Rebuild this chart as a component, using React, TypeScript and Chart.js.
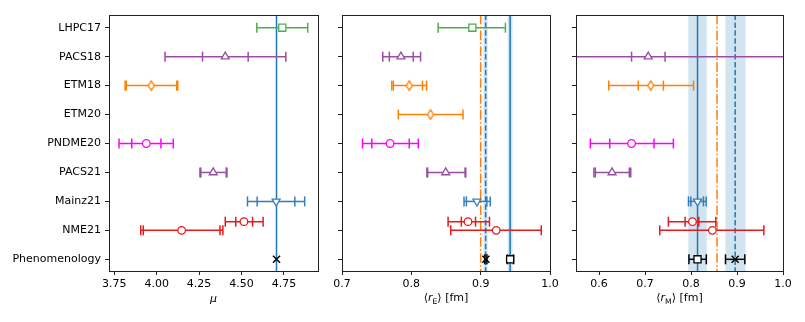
import React, { useEffect, useRef } from 'react';
import { Chart, registerables } from 'chart.js';

Chart.register(...registerables);

// ---------------- data ----------------
const rowLabels = ['LHPC17', 'PACS18', 'ETM18', 'ETM20', 'PNDME20', 'PACS21', 'Mainz21', 'NME21', 'Phenomenology'];

// [label, variant, center, innerLo, innerHi, outerLo, outerHi]
const muResults: [string, number, number, number, number, number, number][] = [
  ['LHPC17', 0, 4.74, 4.59, 4.89, 4.59, 4.89],
  ['PACS18', 0, 4.404, 4.27, 4.539, 4.049, 4.761],
  ['ETM18', 0, 3.968, 3.821, 4.118, 3.814, 4.124],
  ['PNDME20', 0, 3.939, 3.853, 4.025, 3.778, 4.098],
  ['PACS21', 0, 4.333, 4.26, 4.41, 4.255, 4.414],
  ['Mainz21', 0, 4.704, 4.592, 4.814, 4.535, 4.872],
  ['NME21', 1, 4.514, 4.466, 4.565, 4.404, 4.627],
  ['NME21', 0, 4.147, 3.921, 4.373, 3.906, 4.39],
];
const rEResults: [string, number, number, number, number, number, number][] = [
  ['LHPC17', 0, 0.888, 0.8386, 0.9357, 0.8386, 0.9357],
  ['PACS18', 0, 0.785, 0.7683, 0.8027, 0.7588, 0.8133],
  ['ETM18', 0, 0.797, 0.774, 0.816, 0.7717, 0.822],
  ['ETM20', 0, 0.8277, 0.7812, 0.8745, 0.7812, 0.8745],
  ['PNDME20', 0, 0.7693, 0.743, 0.797, 0.7296, 0.81],
  ['PACS21', 0, 0.8496, 0.8235, 0.8775, 0.8225, 0.8785],
  ['Mainz21', 0, 0.8946, 0.8794, 0.9089, 0.876, 0.9138],
  ['NME21', 1, 0.8817, 0.8721, 0.8926, 0.853, 0.9127],
  ['NME21', 0, 0.9224, 0.8568, 0.9874, 0.8568, 0.9874],
];
const rMResults: [string, number, number, number, number, number, number][] = [
  ['PACS18', 0, 0.707, 0.6708, 0.7436, 0.4, 1.1],
  ['ETM18', 0, 0.7124, 0.6853, 0.74, 0.6212, 0.8056],
  ['PNDME20', 0, 0.6708, 0.6233, 0.7196, 0.5812, 0.7617],
  ['PACS21', 0, 0.6284, 0.592, 0.666, 0.589, 0.669],
  ['Mainz21', 0, 0.8142, 0.7997, 0.827, 0.7945, 0.833],
  ['NME21', 1, 0.8032, 0.7872, 0.817, 0.7508, 0.854],
  ['NME21', 0, 0.8464, 0.732, 0.9584, 0.732, 0.9584],
];

// phenomenology: [center, lo, hi]
const muPhenoCross = [4.706, 4.706, 4.706];
const rEPhenoCross = [0.9075, 0.906, 0.909];
const rEPhenoSquare = [0.9425, 0.9386, 0.9474];
const rMPhenoCross = [0.896, 0.875, 0.917];
const rMPhenoSquare = [0.8142, 0.7955, 0.8333];

// reference lines: [value, bandLo, bandHi]
const muSolidLine = [4.706, 4.706, 4.706];
const rESolidLine = [0.9425, 0.939, 0.946];
const rEDashedLine = [0.9072, 0.904, 0.91];
const rEDashDotLine = [0.9];
const rMSolidLine = [0.8142, 0.7941, 0.8343];
const rMDashedLine = [0.896, 0.8748, 0.9185];
const rMDashDotLine = [0.8566];

const muTicks = [3.75, 4.0, 4.25, 4.5, 4.75];
const rETicks = [0.7, 0.8, 0.9, 1.0];
const rMTicks = [0.6, 0.7, 0.8, 0.9, 1.0];

// ---------------- styles ----------------
const colorByName: Record<string, string> = {
  LHPC17: '#4daf4a',
  PACS18: '#984ea3',
  ETM18: '#ff7f00',
  ETM20: '#ff7f00',
  PNDME20: '#ff00ff',
  PACS21: '#984ea3',
  Mainz21: '#377eb8',
  NME21: '#e41a1c',
  Phenomenology: '#000000',
};
const LINE_BLUE = '#1f77b4';
const LINE_ORANGE = '#ff7f0e';
const BAND = 'rgba(31,119,180,0.2)';

const diamondCache: Record<string, HTMLCanvasElement> = {};
function diamond(color: string) {
  if (diamondCache[color]) return diamondCache[color];
  const c = document.createElement('canvas');
  c.width = 10;
  c.height = 13;
  const g = c.getContext('2d')!;
  g.beginPath();
  g.moveTo(5, 1.8);
  g.lineTo(8, 6.5);
  g.lineTo(5, 11.2);
  g.lineTo(2, 6.5);
  g.closePath();
  g.fillStyle = '#fff';
  g.fill();
  g.lineWidth = 1.3;
  g.strokeStyle = color;
  g.stroke();
  diamondCache[color] = c;
  return c;
}

function markerFor(name: string): { style: any; radius: number; rotation: number } {
  switch (name) {
    case 'LHPC17':
      return { style: 'rect', radius: 5, rotation: 0 };
    case 'PACS18':
    case 'PACS21':
      return { style: 'triangle', radius: 4.6, rotation: 0 };
    case 'ETM18':
    case 'ETM20':
      return { style: diamond(colorByName[name]), radius: 5, rotation: 0 };
    case 'Mainz21':
      return { style: 'triangle', radius: 4.6, rotation: 180 };
    default:
      return { style: 'circle', radius: 3.8, rotation: 0 };
  }
}

type PanelCfg = {
  left: number;
  right: number;
  yWidth: number;
  min: number;
  max: number;
  ticks: number[];
  decimals: number;
  showRowLabels: boolean;
  results: [string, number, number, number, number, number, number][];
  phenoCross: number[] | null;
  phenoSquare: number[] | null;
  solid: number[] | null;
  dashed: number[] | null;
  dashdot: number[] | null;
  title: 'mu' | 'E' | 'M';
};

const panels: PanelCfg[] = [
  {
    left: 109, right: 318, yWidth: 109, min: 3.719, max: 4.9505, ticks: muTicks, decimals: 2,
    showRowLabels: true, results: muResults, phenoCross: muPhenoCross, phenoSquare: null,
    solid: muSolidLine, dashed: null, dashdot: null, title: 'mu',
  },
  {
    left: 342, right: 550, yWidth: 30, min: 0.7, max: 1.0, ticks: rETicks, decimals: 1,
    showRowLabels: false, results: rEResults, phenoCross: rEPhenoCross, phenoSquare: rEPhenoSquare,
    solid: rESolidLine, dashed: rEDashedLine, dashdot: rEDashDotLine, title: 'E',
  },
  {
    left: 576, right: 783, yWidth: 30, min: 0.55, max: 1.0, ticks: rMTicks, decimals: 1,
    showRowLabels: false, results: rMResults, phenoCross: rMPhenoCross, phenoSquare: rMPhenoSquare,
    solid: rMSolidLine, dashed: rMDashedLine, dashdot: rMDashDotLine, title: 'M',
  },
];

const TOP = 15;
const BOTTOM = 271;
const W = 805;
const H = 322;
const X_AXIS_H = 40;
const Y_MIN = -0.4387;
const Y_MAX = 8.404;

function capBar(lo: number, hi: number, y: number, color: string, showLine: boolean) {
  return {
    data: [{ x: lo, y }, { x: hi, y }],
    showLine,
    borderColor: color,
    borderWidth: 1.5,
    pointStyle: 'line',
    pointRotation: 90,
    pointRadius: 5,
    pointHoverRadius: 5,
    pointBorderColor: color,
    pointBorderWidth: 1.5,
    order: 2,
  };
}

function buildConfig(cfg: PanelCfg) {
  const datasets: any[] = [];
  const phenoRow = rowLabels.indexOf('Phenomenology');

  const vline = (v: number, dash: number[]) => ({
    data: [{ x: v, y: -1 }, { x: v, y: 10 }],
    showLine: true,
    borderColor: dash.length === 4 ? LINE_ORANGE : LINE_BLUE,
    borderWidth: 1.5,
    borderDash: dash,
    pointRadius: 0,
    pointHoverRadius: 0,
    order: 3,
  });
  if (cfg.solid) datasets.push(vline(cfg.solid[0], []));
  if (cfg.dashed) datasets.push(vline(cfg.dashed[0], [5.5, 2.4]));
  if (cfg.dashdot) datasets.push(vline(cfg.dashdot[0], [9.6, 2.4, 1.5, 2.4]));

  for (const r of cfg.results) {
    const [name, variant, c, il, ih, ol, oh] = r;
    const y = rowLabels.indexOf(name) - (variant ? 0.3 : 0);
    const color = colorByName[name];
    datasets.push(capBar(ol, oh, y, color, true));
    if (il !== ol || ih !== oh) datasets.push(capBar(il, ih, y, color, false));
    const m = markerFor(name);
    datasets.push({
      data: [{ x: c, y }],
      pointStyle: m.style,
      pointRotation: m.rotation,
      pointRadius: m.radius,
      pointHoverRadius: m.radius,
      pointBackgroundColor: '#ffffff',
      pointBorderColor: color,
      pointBorderWidth: 1.3,
      order: 0,
    });
  }

  if (cfg.phenoSquare) {
    const [c, lo, hi] = cfg.phenoSquare;
    if (lo !== hi) datasets.push(capBar(lo, hi, phenoRow, '#000', true));
    datasets.push({
      data: [{ x: c, y: phenoRow }],
      pointStyle: 'rect',
      pointRadius: 5,
      pointHoverRadius: 5,
      pointBackgroundColor: '#ffffff',
      pointBorderColor: '#000',
      pointBorderWidth: 1.3,
      order: 0,
    });
  }
  if (cfg.phenoCross) {
    const [c, lo, hi] = cfg.phenoCross;
    if (lo !== hi) datasets.push(capBar(lo, hi, phenoRow, '#000', true));
    datasets.push({
      data: [{ x: c, y: phenoRow }],
      pointStyle: 'crossRot',
      pointRadius: 5,
      pointHoverRadius: 5,
      pointBorderColor: '#000',
      pointBorderWidth: 1.5,
      order: 0,
    });
  }

  const decor = {
    id: 'decor',
    beforeDatasetsDraw(chart: any) {
      const { ctx, chartArea: a } = chart;
      const x = chart.scales.x;
      ctx.save();
      ctx.beginPath();
      ctx.rect(a.left, a.top, a.right - a.left, a.bottom - a.top);
      ctx.clip();
      ctx.fillStyle = BAND;
      for (const ln of [cfg.solid, cfg.dashed]) {
        if (!ln || ln[1] === ln[2]) continue;
        const x0 = x.getPixelForValue(ln[1]);
        const x1 = x.getPixelForValue(ln[2]);
        ctx.fillRect(x0, a.top, x1 - x0, a.bottom - a.top);
      }
      ctx.restore();
    },
    afterDraw(chart: any) {
      const { ctx, chartArea: a } = chart;
      ctx.save();
      ctx.strokeStyle = '#222';
      ctx.lineWidth = 1;
      const l = Math.floor(a.left) + 0.5;
      const t = Math.floor(a.top) + 0.5;
      const rr = Math.floor(a.right) + 0.5;
      const b = Math.floor(a.bottom) + 0.5;
      ctx.strokeRect(l, t, rr - l, b - t);

      // axis title
      const cx = (a.left + a.right) / 2;
      ctx.fillStyle = '#000';
      ctx.textBaseline = 'alphabetic';
      if (cfg.title === 'mu') {
        ctx.font = 'italic 11px "DejaVu Sans"';
        ctx.textAlign = 'center';
        ctx.fillText('μ', cx, 302);
      } else {
        const base = 301;
        const fN = '11px "DejaVu Sans"';
        const fI = 'italic 11px "DejaVu Sans"';
        const fS = '7.7px "DejaVu Sans"';
        const parts: [string, string, number][] = [
          ['⟨', fN, 0],
          ['r', fI, 0],
          [cfg.title, fS, 2.5],
          ['⟩ [fm]', fN, 0],
        ];
        let total = 0;
        const widths = parts.map(([s, f]) => {
          ctx.font = f;
          const w = ctx.measureText(s).width;
          total += w;
          return w;
        });
        let px = cx - total / 2;
        ctx.textAlign = 'left';
        parts.forEach(([s, f, dy], i) => {
          ctx.font = f;
          ctx.fillText(s, px, base + dy);
          px += widths[i];
        });
      }
      ctx.restore();
    },
  };

  return {
    type: 'scatter' as const,
    data: { datasets },
    plugins: [decor],
    options: {
      animation: false,
      responsive: false,
      maintainAspectRatio: false,
      devicePixelRatio: 1,
      events: [],
      layout: {
        autoPadding: false,
        padding: {
          left: cfg.left - cfg.yWidth,
          right: W - cfg.right,
          top: TOP,
          bottom: H - BOTTOM - X_AXIS_H,
        },
      },
      plugins: { legend: { display: false }, tooltip: { enabled: false }, title: { display: false } },
      scales: {
        x: {
          type: 'linear',
          min: cfg.min,
          max: cfg.max,
          afterBuildTicks: (s: any) => {
            s.ticks = cfg.ticks.map((v) => ({ value: v }));
          },
          afterFit: (s: any) => {
            s.height = X_AXIS_H;
          },
          ticks: {
            autoSkip: false,
            maxRotation: 0,
            padding: 3,
            color: '#000',
            font: { family: 'DejaVu Sans', size: 11 },
            callback: (v: any) => Number(v).toFixed(cfg.decimals),
          },
          grid: { drawOnChartArea: false, drawTicks: true, tickLength: 4, color: '#222', lineWidth: 1 },
          border: { display: false },
        },
        y: {
          type: 'linear',
          reverse: true,
          min: Y_MIN,
          max: Y_MAX,
          afterBuildTicks: (s: any) => {
            s.ticks = rowLabels.map((_, i) => ({ value: i }));
          },
          afterFit: (s: any) => {
            s.width = cfg.yWidth;
          },
          ticks: {
            autoSkip: false,
            padding: 4,
            color: '#000',
            font: { family: 'DejaVu Sans', size: 11 },
            callback: (v: any) => (cfg.showRowLabels ? rowLabels[Math.round(Number(v))] : ''),
          },
          grid: { drawOnChartArea: false, drawTicks: true, tickLength: 4, color: '#222', lineWidth: 1 },
          border: { display: false },
        },
      },
    },
  };
}

function Panel({ cfg }: { cfg: PanelCfg }) {
  const ref = useRef<HTMLCanvasElement>(null);
  useEffect(() => {
    const chart = new Chart(ref.current!, buildConfig(cfg) as any);
    return () => chart.destroy();
  }, [cfg]);
  return (
    <canvas
      ref={ref}
      width={W}
      height={H}
      style={{ position: 'absolute', left: 0, top: 0, width: W, height: H }}
    />
  );
}

export default function App() {
  return (
    <div style={{ position: 'fixed', left: 0, top: 0, width: W, height: H, background: '#fff' }}>
      {panels.map((p, i) => (
        <Panel key={i} cfg={p} />
      ))}
    </div>
  );
}
